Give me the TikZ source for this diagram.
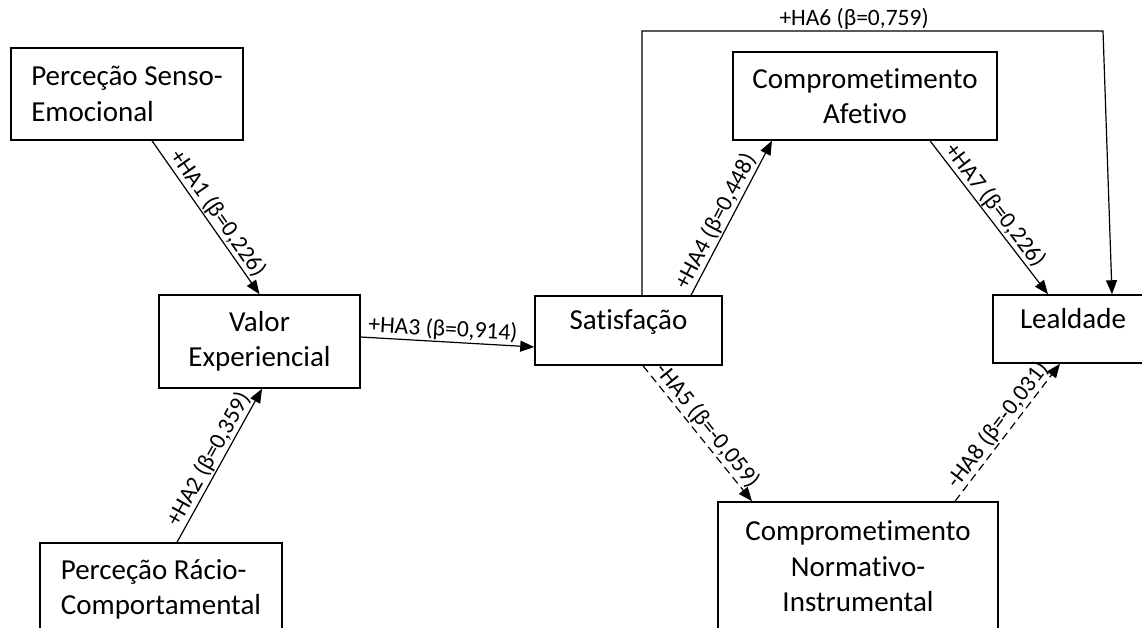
\documentclass[tikz,border=0pt]{standalone}
\usepackage{fontspec}
\setmainfont{Carlito}[Ligatures=NoCommon]
\usetikzlibrary{arrows.meta}

\tikzset{
    box/.style={draw, rectangle, line width=1.5pt, font=\fontsize{29}{35.5}\selectfont},
    hyp/.style={line width=1.2pt, -{Triangle[length=14pt,width=11pt]}},
    nhyp/.style={hyp, dash pattern=on 8pt off 5pt},
    lbl/.style={font=\fontsize{23.5}{28}\selectfont, sloped, above, inner sep=1pt}
}

\begin{document}
\begin{tikzpicture}[x=1pt, y=-1pt]
            \useasboundingbox (0,0) rectangle (1142,627);
            \clip (0,0) rectangle (1142,627);

            \node[box, minimum width=232pt, minimum height=92pt, align=left] (senso) at (127,94) {Perceção Senso-\\Emocional};
            \node[box, minimum width=201pt, minimum height=93pt, align=center] (valor) at (259.5,341.5) {Valor\\Experiencial};
            \node[box, minimum width=242pt, minimum height=93pt, align=left] (racio) at (161,589.5) {Perceção Rácio-\\Comportamental};
            \node[box, minimum width=187pt, minimum height=69pt, text depth=22pt] (satis) at (628.5,330.5) {Satisfação};
            \node[box, minimum width=264pt, minimum height=88pt, align=center] (afetivo) at (865,96) {Comprometimento\\Afetivo};
            \node[box, minimum width=160pt, minimum height=68pt, text depth=22pt] (leal) at (1073,329) {Lealdade};
            \node[box, minimum width=280pt, minimum height=129pt, align=center] (normativo) at (858,566.5) {Comprometimento\\Normativo-\\Instrumental};

            \coordinate (hsix) at (1103,31);

            \draw[hyp] ([xshift=25pt]senso.south) -- node[lbl, pos=0.52] {+HA1 (β=0,226)} (valor.north);
            \draw[hyp] ([xshift=16pt]racio.north) -- node[lbl] {+HA2 (β=0,359)} ([xshift=2.5pt]valor.south);
            \draw[hyp] ([yshift=4.5pt]valor.east) -- node[lbl, pos=0.47] {+HA3 (β=0,914)} ([yshift=-16.5pt]satis.west);
            \draw[hyp] ([xshift=62.5pt]satis.north) -- node[lbl, pos=0.44] {+HA4 (β=0,448)} ([xshift=-93pt]afetivo.south);
            \draw[nhyp] ([xshift=14.5pt]satis.south) -- node[lbl] {-HA5 (β=-0,059)} ([xshift=-106pt]normativo.north);
            \draw[hyp] ([xshift=13.5pt]satis.north) |- node[lbl, pos=0.73] {+HA6 (β=0,759)} (hsix) -- ([xshift=39pt]leal.north);
            \draw[hyp] ([xshift=65pt]afetivo.south) -- node[lbl, pos=0.47] {+HA7 (β=0,226)} ([xshift=-25pt]leal.north);
            \draw[nhyp] ([xshift=97pt]normativo.north) -- node[lbl] {-HA8 (β=-0,031)} ([xshift=-13pt]leal.south);
        \end{tikzpicture}
\end{document}
